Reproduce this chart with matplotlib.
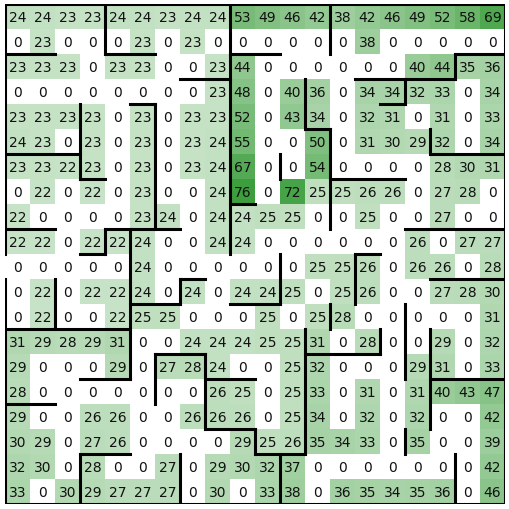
import numpy as np
import matplotlib
matplotlib.use("Agg")
import matplotlib.pyplot as plt
from matplotlib.colors import LinearSegmentedColormap

# cell values, row by row (top row first)
grid_rows = [
    [24, 24, 23, 23, 24, 24, 23, 24, 24, 53, 49, 46, 42, 38, 42, 46, 49, 52, 58, 69],
    [0, 23, 0, 0, 0, 23, 0, 23, 0, 0, 0, 0, 0, 0, 38, 0, 0, 0, 0, 0],
    [23, 23, 23, 0, 23, 23, 0, 0, 23, 44, 0, 0, 0, 0, 0, 0, 40, 44, 35, 36],
    [0, 0, 0, 0, 0, 0, 0, 0, 23, 48, 0, 40, 36, 0, 34, 34, 32, 33, 0, 34],
    [23, 23, 23, 23, 0, 23, 0, 23, 23, 52, 0, 43, 34, 0, 32, 31, 0, 31, 0, 33],
    [24, 23, 0, 23, 0, 23, 0, 23, 24, 55, 0, 0, 50, 0, 31, 30, 29, 32, 0, 34],
    [23, 23, 22, 23, 0, 23, 0, 23, 24, 67, 0, 0, 54, 0, 0, 0, 0, 28, 30, 31],
    [0, 22, 0, 22, 0, 23, 0, 0, 24, 76, 0, 72, 25, 25, 26, 26, 0, 27, 28, 0],
    [22, 0, 0, 0, 0, 23, 24, 0, 24, 24, 25, 25, 0, 0, 25, 0, 0, 27, 0, 0],
    [22, 22, 0, 22, 22, 24, 0, 0, 24, 24, 0, 0, 0, 0, 0, 0, 26, 0, 27, 27],
    [0, 0, 0, 0, 0, 24, 0, 0, 0, 0, 0, 0, 25, 25, 26, 0, 26, 26, 0, 28],
    [0, 22, 0, 22, 22, 24, 0, 24, 0, 24, 24, 25, 0, 25, 26, 0, 0, 27, 28, 30],
    [0, 22, 0, 0, 22, 25, 25, 0, 0, 0, 25, 0, 25, 28, 0, 0, 0, 0, 0, 31],
    [31, 29, 28, 29, 31, 0, 0, 24, 24, 24, 25, 25, 31, 0, 28, 0, 0, 29, 0, 32],
    [29, 0, 0, 0, 29, 0, 27, 28, 24, 0, 0, 25, 32, 0, 0, 0, 29, 31, 0, 33],
    [28, 0, 0, 0, 0, 0, 0, 0, 26, 25, 0, 25, 33, 0, 31, 0, 31, 40, 43, 47],
    [29, 0, 0, 26, 26, 0, 0, 26, 26, 26, 0, 25, 34, 0, 32, 0, 32, 0, 0, 42],
    [30, 29, 0, 27, 26, 0, 0, 0, 0, 29, 25, 26, 35, 34, 33, 0, 35, 0, 0, 39],
    [32, 30, 0, 28, 0, 0, 27, 0, 29, 30, 32, 37, 0, 0, 0, 0, 0, 0, 0, 42],
    [33, 0, 30, 29, 27, 27, 27, 0, 30, 0, 33, 38, 0, 36, 35, 34, 35, 36, 0, 46],
]

# thick walls: horizontal (row line, col from, col to)
h_walls = [
    (0, 0, 20), (20, 0, 20),
    (2, 0, 2), (2, 4, 6), (2, 9, 11), (2, 18, 20),
    (3, 7, 9), (3, 14, 18),
    (4, 5, 6), (4, 15, 16),
    (5, 12, 13),
    (6, 0, 3), (6, 17, 20),
    (7, 3, 4), (7, 13, 16),
    (8, 9, 10),
    (9, 0, 2), (9, 4, 7), (9, 16, 20),
    (10, 3, 4), (10, 14, 15),
    (11, 7, 8), (11, 17, 20),
    (12, 5, 7), (12, 9, 11),
    (13, 0, 5),
    (14, 6, 8), (14, 12, 15),
    (15, 3, 5), (15, 8, 10), (15, 17, 20),
    (16, 0, 2),
    (17, 8, 10),
    (18, 3, 5), (18, 10, 12),
]
# vertical (col line, row from, row to)
v_walls = [
    (0, 0, 10), (0, 11, 20), (20, 0, 20),
    (4, 0, 2), (9, 0, 10), (13, 0, 2),
    (18, 2, 3),
    (3, 4, 7), (6, 4, 9), (12, 3, 5), (16, 3, 4),
    (13, 5, 9), (11, 6, 7), (17, 5, 6),
    (4, 9, 10), (5, 9, 15), (2, 11, 13), (7, 11, 12),
    (11, 10, 12), (14, 10, 12),
    (13, 12, 13), (16, 12, 15),
    (12, 13, 18), (15, 13, 14), (17, 13, 17),
    (6, 14, 16), (8, 14, 17), (10, 17, 18), (16, 17, 18),
    (3, 18, 20), (7, 18, 20), (11, 18, 20), (18, 18, 20),
]

data = np.array(grid_rows)
n_rows, n_cols = data.shape

# white -> green, like green drawn with alpha = value / 100
cmap = LinearSegmentedColormap.from_list("wg", ["#ffffff", "#008000"])

fig = plt.figure(figsize=(5.1, 5.1), dpi=100)
ax = fig.add_axes([5 / 510, 5 / 510, 500 / 510, 500 / 510])
ax.imshow(data, cmap=cmap, vmin=0, vmax=100, extent=(0, n_cols, n_rows, 0),
          interpolation="nearest")

for r in range(n_rows):
    for c in range(n_cols):
        ax.text(c + 0.5, r + 0.52, str(data[r, c]), ha="center", va="center",
                fontsize=10, color="#111111", family="DejaVu Sans")

for y, x0, x1 in h_walls:
    ax.plot([x0, x1], [y, y], color="black", lw=2.2, solid_capstyle="projecting")
for x, y0, y1 in v_walls:
    ax.plot([x, x], [y0, y1], color="black", lw=2.2, solid_capstyle="projecting")

ax.set_xlim(0, n_cols)
ax.set_ylim(n_rows, 0)
ax.axis("off")

fig.savefig("out.png", dpi=100)
